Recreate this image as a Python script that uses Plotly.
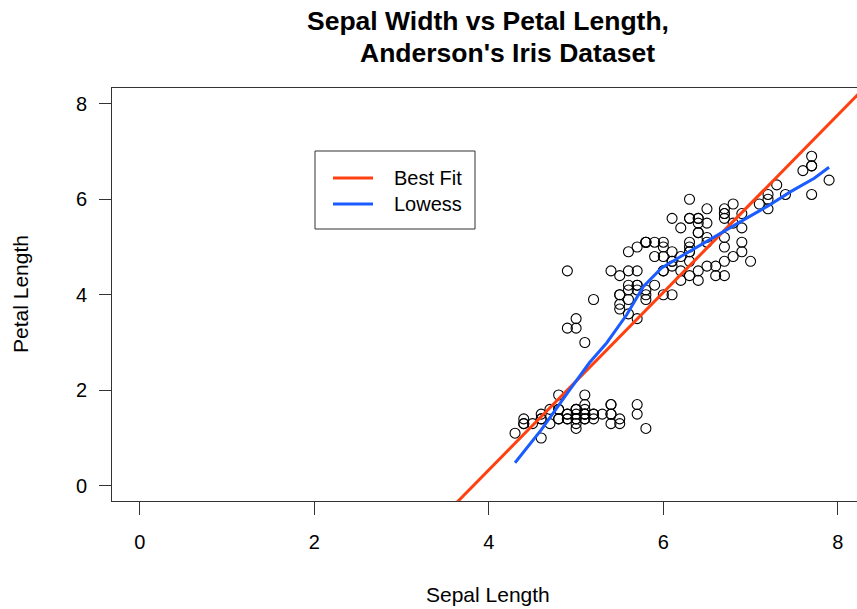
import plotly.graph_objects as go

# Anderson's iris data: Sepal.Length and Petal.Length (150 flowers)
sepal_length = [
    5.1, 4.9, 4.7, 4.6, 5.0, 5.4, 4.6, 5.0, 4.4, 4.9, 5.4, 4.8, 4.8, 4.3, 5.8, 5.7, 5.4, 5.1, 5.7, 5.1,
    5.4, 5.1, 4.6, 5.1, 4.8, 5.0, 5.0, 5.2, 5.2, 4.7, 4.8, 5.4, 5.2, 5.5, 4.9, 5.0, 5.5, 4.9, 4.4, 5.1,
    5.0, 4.5, 4.4, 5.0, 5.1, 4.8, 5.1, 4.6, 5.3, 5.0,
    7.0, 6.4, 6.9, 5.5, 6.5, 5.7, 6.3, 4.9, 6.6, 5.2, 5.0, 5.9, 6.0, 6.1, 5.6, 6.7, 5.6, 5.8, 6.2, 5.6,
    5.9, 6.1, 6.3, 6.1, 6.4, 6.6, 6.8, 6.7, 6.0, 5.7, 5.5, 5.5, 5.8, 6.0, 5.4, 6.0, 6.7, 6.3, 5.6, 5.5,
    5.5, 6.1, 5.8, 5.0, 5.6, 5.7, 5.7, 6.2, 5.1, 5.7,
    6.3, 5.8, 7.1, 6.3, 6.5, 7.6, 4.9, 7.3, 6.7, 7.2, 6.5, 6.4, 6.8, 5.7, 5.8, 6.4, 6.5, 7.7, 7.7, 6.0,
    6.9, 5.6, 7.7, 6.3, 6.7, 7.2, 6.2, 6.1, 6.4, 7.2, 7.4, 7.9, 6.4, 6.3, 6.1, 7.7, 6.3, 6.4, 6.0, 6.9,
    6.7, 6.9, 5.8, 6.8, 6.7, 6.7, 6.3, 6.5, 6.2, 5.9,
]
petal_length = [
    1.4, 1.4, 1.3, 1.5, 1.4, 1.7, 1.4, 1.5, 1.4, 1.5, 1.5, 1.6, 1.4, 1.1, 1.2, 1.5, 1.3, 1.4, 1.7, 1.5,
    1.7, 1.5, 1.0, 1.7, 1.9, 1.6, 1.6, 1.5, 1.4, 1.6, 1.6, 1.5, 1.5, 1.4, 1.5, 1.2, 1.3, 1.4, 1.3, 1.5,
    1.3, 1.3, 1.3, 1.6, 1.9, 1.4, 1.6, 1.4, 1.5, 1.4,
    4.7, 4.5, 4.9, 4.0, 4.6, 4.5, 4.7, 3.3, 4.6, 3.9, 3.5, 4.2, 4.0, 4.7, 3.6, 4.4, 4.5, 4.1, 4.5, 3.9,
    4.8, 4.0, 4.9, 4.7, 4.3, 4.4, 4.8, 5.0, 4.5, 3.5, 3.8, 3.7, 3.9, 5.1, 4.5, 4.5, 4.7, 4.4, 4.1, 4.0,
    4.4, 4.6, 4.0, 3.3, 4.2, 4.2, 4.2, 4.3, 3.0, 4.1,
    6.0, 5.1, 5.9, 5.6, 5.8, 6.6, 4.5, 6.3, 5.8, 6.1, 5.1, 5.3, 5.5, 5.0, 5.1, 5.3, 5.5, 6.7, 6.9, 5.0,
    5.7, 4.9, 6.7, 4.9, 5.7, 6.0, 4.8, 4.9, 5.6, 5.8, 6.1, 6.4, 5.6, 5.1, 5.6, 6.1, 5.6, 5.5, 4.8, 5.4,
    5.6, 5.1, 5.1, 5.9, 5.7, 5.2, 5.0, 5.2, 5.4, 5.1,
]

# Least-squares line (Petal.Length ~ Sepal.Length)
fit_intercept = -7.1014
fit_slope = 1.8584
fit_x_span = [-1.0, 9.0]

# Lowess curve
lowess_x = [4.3, 4.6, 4.9, 5.15, 5.35, 5.58, 5.77, 5.98, 6.2, 6.43, 6.69, 6.96, 7.19, 7.46, 7.73, 7.9]
lowess_y = [0.48, 1.17, 1.94, 2.57, 2.99, 3.58, 4.17, 4.56, 4.80, 5.05, 5.33, 5.61, 5.85, 6.16, 6.44, 6.67]

tick_vals = [0, 2, 4, 6, 8]
tick_text = ["0", "2", "4", "6", "8"]

legend_labels = ["Best Fit", "Lowess"]
RED = "#FF4010"
BLUE = "#1A5CFF"
legend_colors = [RED, BLUE]

FONT = "Liberation Sans, Arial, Helvetica, sans-serif"
AXIS_COLOR = "#333333"

# plot area in pixels (for placing the legend box like R's legend())
L, T, W, H = 112, 88, 745, 413


def px(xp):
    return (xp - L) / W


def py(yp):
    return (T + H - yp) / H


fig = go.Figure()
fig.add_trace(go.Scatter(
    x=sepal_length, y=petal_length, mode="markers", showlegend=False,
    marker=dict(symbol="circle-open", size=10, color="black", line=dict(width=1.1, color="black")),
))
fig.add_trace(go.Scatter(
    x=fit_x_span, y=[fit_intercept + fit_slope * v for v in fit_x_span],
    mode="lines", name=legend_labels[0], showlegend=False, line=dict(color=RED, width=3),
))
fig.add_trace(go.Scatter(
    x=lowess_x, y=lowess_y, mode="lines", name=legend_labels[1], showlegend=False,
    line=dict(color=BLUE, width=3),
))

shapes = [dict(type="rect", xref="paper", yref="paper", x0=px(315), x1=px(475), y0=py(229), y1=py(151),
               line=dict(color=AXIS_COLOR, width=1), fillcolor="white", layer="above")]
annotations = []
for i, (lab, col) in enumerate(zip(legend_labels, legend_colors)):
    yy = 178 + 26 * i
    shapes.append(dict(type="line", xref="paper", yref="paper", x0=px(333), x1=px(373), y0=py(yy), y1=py(yy),
                       line=dict(color=col, width=3), layer="above"))
    annotations.append(dict(text=lab, xref="paper", yref="paper", x=px(392), y=py(yy),
                            xanchor="left", yanchor="middle", showarrow=False,
                            font=dict(size=20, family=FONT)))

annotations += [
    dict(text="<b>Sepal Width vs Petal Length,</b>", xref="paper", yref="paper",
         x=px(487.5), y=py(21), xanchor="center", yanchor="middle",
         showarrow=False, font=dict(size=26.5, family=FONT)),
    dict(text="<b>Anderson's Iris Dataset</b>", xref="paper", yref="paper",
         x=px(507), y=py(53), xanchor="center", yanchor="middle",
         showarrow=False, font=dict(size=26.5, family=FONT)),
    dict(text="Sepal Length", xref="paper", yref="paper",
         x=px(488), y=py(594), xanchor="center", yanchor="middle",
         showarrow=False, font=dict(size=21, family=FONT)),
    dict(text="Petal Length", xref="paper", yref="paper", textangle=-90,
         x=px(20), y=py(294), xanchor="center", yanchor="middle",
         showarrow=False, font=dict(size=21, family=FONT)),
]

fig.update_layout(
    width=857, height=609,
    margin=dict(l=L, r=0, t=T, b=609 - T - H),
    paper_bgcolor="white", plot_bgcolor="white",
    font=dict(family=FONT, size=20, color="black"),
    showlegend=False,
    shapes=shapes,
    annotations=annotations,
)
fig.update_xaxes(
    range=[-0.32, 8.22], tickvals=tick_vals, ticktext=tick_text,
    ticks="outside", ticklen=13, tickwidth=1, tickcolor=AXIS_COLOR,
    showline=True, linecolor=AXIS_COLOR, linewidth=1, mirror=True,
    showgrid=False, zeroline=False, ticklabelstandoff=10,
)
fig.update_yaxes(
    range=[-0.32, 8.33], tickvals=tick_vals, ticktext=tick_text,
    ticks="outside", ticklen=12, tickwidth=1, tickcolor=AXIS_COLOR,
    showline=True, linecolor=AXIS_COLOR, linewidth=1, mirror=False,
    showgrid=False, zeroline=False, ticklabelstandoff=8,
)

fig.write_html("out.html")
